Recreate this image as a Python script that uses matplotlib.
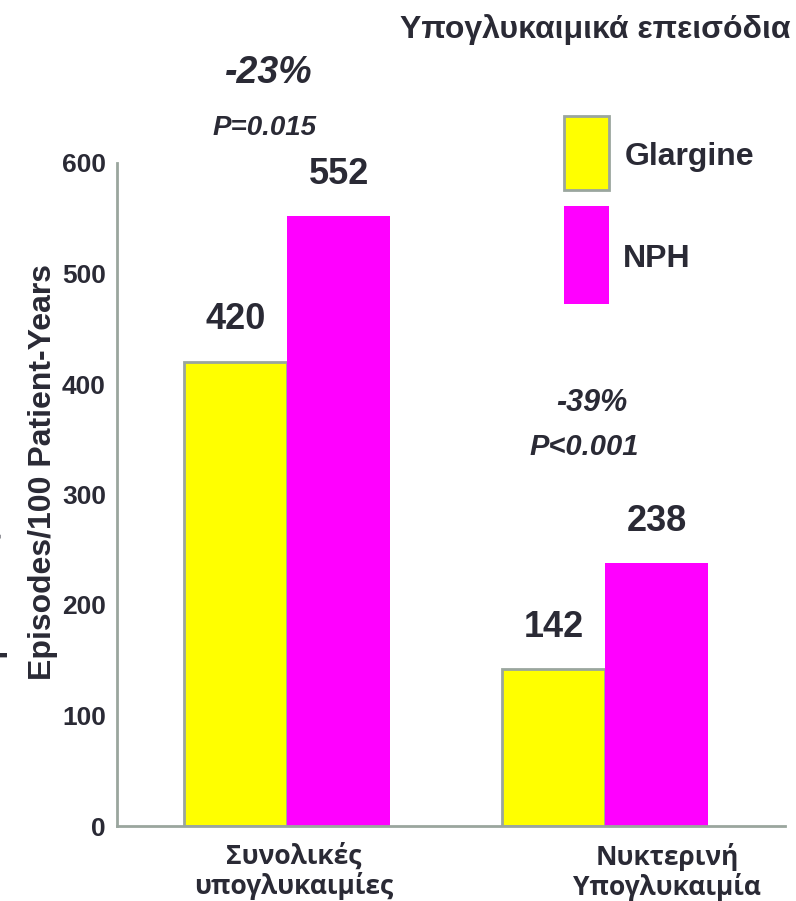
import numpy as np
import matplotlib.pyplot as plt
from matplotlib.patches import Rectangle

# data
categories = ["Συνολικές\nυπογλυκαιμίες", "Νυκτερινή\nΥπογλυκαιμία"]
glargine = [420, 142]
nph = [552, 238]
changes = ["-23%", "-39%"]
pvalues = ["P=0.015", "P<0.001"]
yticks = [0, 100, 200, 300, 400, 500, 600]
ylabel = "Episodes/100 Patient-Years"

W, H = 796, 901
txt = "#2a2a35"
edge = "#9aa69e"
plt.rcParams['font.family'] = ['Liberation Sans', 'DejaVu Sans']

def fx(px):
    return px / W

def fy(py):
    return 1 - py / H

fig = plt.figure(figsize=(W / 100, H / 100), dpi=100)
ax = fig.add_axes([fx(117), fy(826), (785 - 117) / W, (826 - 163) / H])

x = np.arange(len(categories))
w = 0.324
ax.bar(x - w / 2, glargine, w, color="#ffff00", edgecolor=edge, linewidth=2)
ax.bar(x + w / 2, nph, w, color="#ff00ff", linewidth=0)

for i in range(len(x)):
    ax.text(x[i] - w / 2, glargine[i] + 38, str(glargine[i]), ha="center", va="center",
            fontsize=26, fontweight="bold", color=txt)
    ax.text(x[i] + w / 2, nph[i] + 38, str(nph[i]), ha="center", va="center",
            fontsize=26, fontweight="bold", color=txt)

ax.set_xlim(-0.535, 1.566)
ax.set_ylim(0, 600)
ax.set_yticks(yticks)
ax.set_yticklabels([str(t) for t in yticks], fontsize=19, fontweight="bold", color=txt)
ax.tick_params(axis="y", length=0, pad=8)
ax.tick_params(axis="x", length=0, pad=12)
ax.set_xticks([0.02, 1.195])
ax.set_xticklabels(categories, fontsize=19, fontweight="bold", color=txt,
                   family=["Open Sans", "DejaVu Sans"], linespacing=1.1)
for s in ["top", "right"]:
    ax.spines[s].set_visible(False)
for s in ["left", "bottom"]:
    ax.spines[s].set_color(edge)
    ax.spines[s].set_linewidth(2)

fig.text(fx(43), fy(472), ylabel, rotation=90, ha="center", va="center",
         fontsize=23, fontweight="bold", color=txt)
# cut off copy of the label at the left edge
fig.text(fx(-7), fy(472), ylabel, rotation=90, ha="center", va="center",
         fontsize=23, fontweight="bold", color=txt)

# title and annotations
fig.text(fx(595), fy(30), "Υπογλυκαιμικά επεισόδια", ha="center", va="center",
         fontsize=23, fontweight="bold", color=txt)
fig.text(fx(269), fy(73), changes[0], ha="center", va="center", fontsize=27,
         fontweight="bold", style="italic", color=txt)
fig.text(fx(265), fy(128), pvalues[0], ha="center", va="center", fontsize=20,
         fontweight="bold", style="italic", color=txt)
fig.text(fx(592), fy(403), changes[1], ha="center", va="center", fontsize=22,
         fontweight="bold", style="italic", color=txt)
fig.text(fx(584), fy(447), pvalues[1], ha="center", va="center", fontsize=21,
         fontweight="bold", style="italic", color=txt)

# legend
fig.patches.append(Rectangle((fx(564), fy(190)), (609 - 564) / W, (190 - 116) / H,
                             transform=fig.transFigure, facecolor="#ffff00", edgecolor=edge, linewidth=2))
fig.patches.append(Rectangle((fx(564), fy(304)), (609 - 564) / W, (304 - 206) / H,
                             transform=fig.transFigure, facecolor="#ff00ff", linewidth=0))
fig.text(fx(625), fy(157), "Glargine", ha="left", va="center", fontsize=23, fontweight="bold", color=txt)
fig.text(fx(623), fy(259), "NPH", ha="left", va="center", fontsize=23, fontweight="bold", color=txt)

fig.savefig("out.png", dpi=100)
